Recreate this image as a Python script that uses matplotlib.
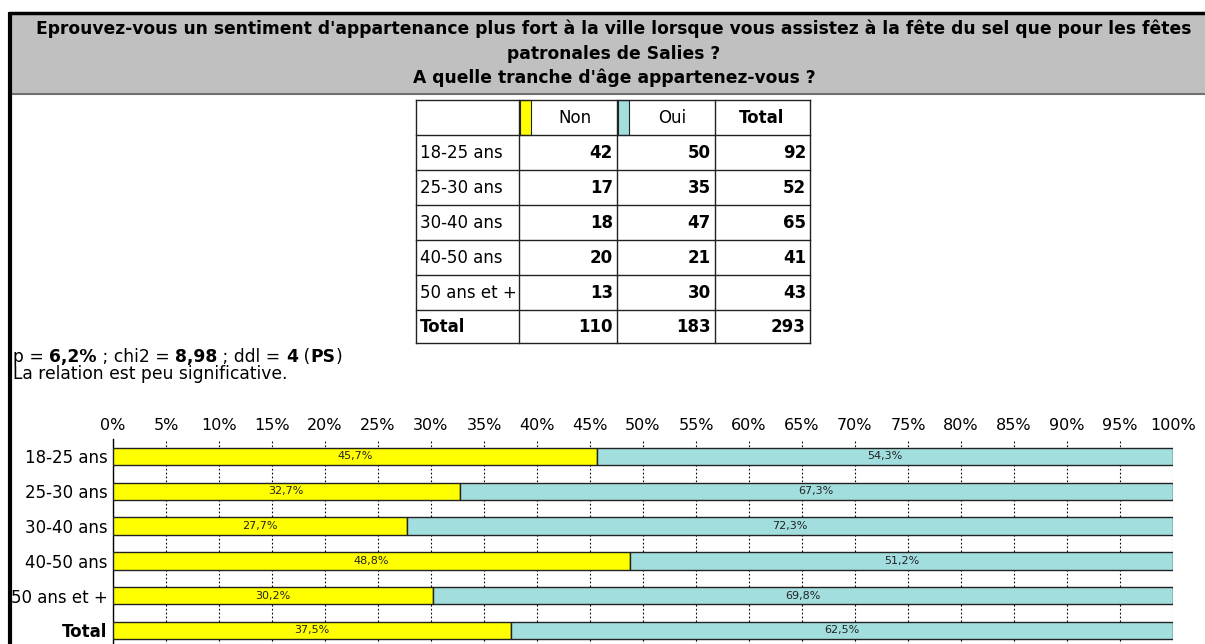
import numpy as np
import matplotlib
matplotlib.use('Agg')
import matplotlib.pyplot as plt
from matplotlib.patches import Rectangle

plt.rcParams['font.family'] = 'DejaVu Sans'

# Cross-tab data: age bracket x "Non"/"Oui"
age_groups = ['18-25 ans', '25-30 ans', '30-40 ans', '40-50 ans', '50 ans et +']
non_counts = [42, 17, 18, 20, 13]
oui_counts = [50, 35, 47, 21, 30]
answers = ['Non', 'Oui']
tick_values = list(range(0, 101, 5))

title_lines = [
    "Eprouvez-vous un sentiment d'appartenance plus fort à la ville lorsque vous assistez à la fête du sel que pour les fêtes",
    "patronales de Salies ?",
    "A quelle tranche d'âge appartenez-vous ?",
]

YELLOW = '#FFFF00'
TEAL = '#A3DEDF'
GREY = '#C0C0C0'

# totals and row percentages
row_labels = age_groups + ['Total']
non_all = non_counts + [sum(non_counts)]
oui_all = oui_counts + [sum(oui_counts)]
tot_all = [n + o for n, o in zip(non_all, oui_all)]
pct_non = [100.0 * n / t for n, t in zip(non_all, tot_all)]
pct_oui = [100.0 * o / t for o, t in zip(oui_all, tot_all)]

W, H = 1205, 644
fig = plt.figure(figsize=(W / 100, H / 100), dpi=100)

# full-figure canvas in pixel units for the frame, header and table
bg = fig.add_axes([0, 0, 1, 1])
bg.set_xlim(0, W)
bg.set_ylim(H, 0)
bg.axis('off')

# header band
bg.add_patch(Rectangle((9, 12), W - 9, 81, facecolor=GREY, edgecolor='none'))
bg.plot([9, W], [13, 13], color='black', lw=2.5, solid_capstyle='butt')
bg.plot([9, W], [93.5, 93.5], color='#707070', lw=1.5, solid_capstyle='butt')
bg.plot([9.5, 9.5], [12, H], color='black', lw=3, solid_capstyle='butt')
for i, line in enumerate(title_lines):
    bg.text(614, 29 + i * 24.5, line, ha='center', va='center',
            fontsize=12.3, fontweight='bold')

# contingency table
col_x = [416, 519, 617, 715, 810]
row_y = [100, 135, 170, 205, 240, 275, 310, 343]
for x in col_x:
    bg.plot([x, x], [row_y[0], row_y[-1]], color='#222222', lw=1)
for y in row_y:
    bg.plot([col_x[0], col_x[-1]], [y, y], color='#222222', lw=1)
bg.add_patch(Rectangle((520, 100), 11, 35, facecolor=YELLOW, edgecolor='#222222', lw=0.8))
bg.add_patch(Rectangle((618, 100), 11, 35, facecolor=TEAL, edgecolor='#222222', lw=0.8))
bg.text(575, 118, answers[0], ha='center', va='center', fontsize=12)
bg.text(672, 118, answers[1], ha='center', va='center', fontsize=12)
bg.text(762, 118, 'Total', ha='center', va='center', fontsize=12, fontweight='bold')
for i, lab in enumerate(row_labels):
    yc = (row_y[i + 1] + row_y[i + 2]) / 2
    bold = 'bold' if lab == 'Total' else 'normal'
    bg.text(420, yc, lab, ha='left', va='center', fontsize=12, fontweight=bold)
    for j, v in enumerate([non_all[i], oui_all[i], tot_all[i]]):
        bg.text(col_x[j + 2] - 4, yc, str(v), ha='right', va='center',
                fontsize=12, fontweight='bold')

# test summary, mixed weights on one line
stats_parts = [('p = ', 'normal'), ('6,2%', 'bold'), (' ; chi2 = ', 'normal'),
               ('8,98', 'bold'), (' ; ddl = ', 'normal'), ('4', 'bold'),
               (' (', 'normal'), ('PS', 'bold'), (')', 'normal')]
renderer = fig.canvas.get_renderer()
x0 = 13
for txt, wgt in stats_parts:
    t = bg.text(x0, 357, txt, ha='left', va='center', fontsize=12.3, fontweight=wgt)
    x0 += t.get_window_extent(renderer=renderer).width
bg.text(13, 374, 'La relation est peu significative.', ha='left', va='center', fontsize=12.3)

# stacked percentage bars
left, right = 113, 1173
top, step = 439, 34.8
n = len(row_labels)
bottom = top + n * step
ax = fig.add_axes([left / W, 1 - bottom / H, (right - left) / W, (bottom - top) / H])
ypos = np.arange(n)
ax.barh(ypos, pct_non, height=0.5, color=YELLOW, edgecolor='#222222', lw=1, zorder=3)
ax.barh(ypos, pct_oui, left=pct_non, height=0.5, color=TEAL, edgecolor='#222222', lw=1, zorder=3)
for i in range(n):
    ax.text(pct_non[i] / 2, i, f'{pct_non[i]:.1f}%'.replace('.', ','),
            ha='center', va='center', fontsize=8, color='#222222', zorder=4)
    ax.text(pct_non[i] + pct_oui[i] / 2, i, f'{pct_oui[i]:.1f}%'.replace('.', ','),
            ha='center', va='center', fontsize=8, color='#222222', zorder=4)

ax.set_xlim(0, 100)
ax.set_ylim(n - 0.5, -0.5)
ax.set_xticks(tick_values)
ax.set_xticklabels([f'{v}%' for v in tick_values])
ax.xaxis.tick_top()
ax.set_yticks(ypos)
ax.set_yticklabels(row_labels)
ax.get_yticklabels()[-1].set_fontweight('bold')
ax.tick_params(axis='x', length=0, labelsize=11.5, pad=4)
ax.tick_params(axis='y', length=0, labelsize=12, pad=4)
ax.grid(axis='x', color='black', linestyle=(0, (1.5, 2)), lw=0.8, zorder=1)
ax.grid(axis='y', visible=False)
for side in ['top', 'right', 'bottom']:
    ax.spines[side].set_visible(False)
ax.spines['left'].set_color('black')
ax.spines['left'].set_linewidth(1)

fig.savefig('out.png', dpi=100)
